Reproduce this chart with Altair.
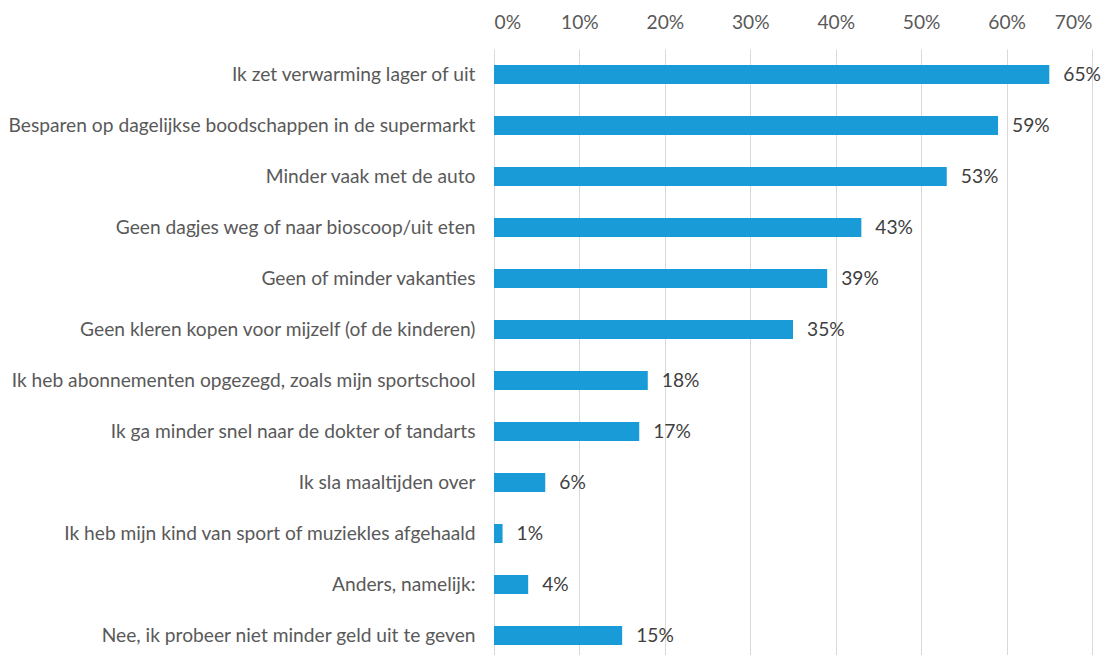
import altair as alt
import pandas as pd

categories = [
    "Ik zet verwarming lager of uit",
    "Besparen op dagelijkse boodschappen in de supermarkt",
    "Minder vaak met de auto",
    "Geen dagjes weg of naar bioscoop/uit eten",
    "Geen of minder vakanties",
    "Geen kleren kopen voor mijzelf (of de kinderen)",
    "Ik heb abonnementen opgezegd, zoals mijn sportschool",
    "Ik ga minder snel naar de dokter of tandarts",
    "Ik sla maaltijden over",
    "Ik heb mijn kind van sport of muziekles afgehaald",
    "Anders, namelijk:",
    "Nee, ik probeer niet minder geld uit te geven",
]
values = [65, 59, 53, 43, 39, 35, 18, 17, 6, 1, 4, 15]

df = pd.DataFrame({"cat": categories, "val": [v / 100 for v in values],
                   "label": [f"{v}%" for v in values]})

FONT = "Lato"
FS = 19.2
GRAY = "#595959"

y = alt.Y("cat:N", sort=categories, title=None,
          scale=alt.Scale(paddingInner=0, paddingOuter=0),
          axis=alt.Axis(ticks=False, domain=False, labelPadding=19,
                        labelFontSize=FS, labelColor=GRAY, labelFont=FONT,
                        labelLimit=0))
x = alt.X("val:Q", title=None,
          scale=alt.Scale(domain=[0, 0.7], nice=False),
          axis=alt.Axis(orient="top", format=".0%", values=[i / 10 for i in range(8)],
                        ticks=False, domain=False, labelPadding=17,
                        labelFontSize=FS, labelColor=GRAY, labelFont=FONT,
                        grid=True, gridColor="#d9d9d9", gridWidth=1))

bars = alt.Chart(df).mark_bar(size=19, color="#189bd7").encode(x=x, y=y)
labels = alt.Chart(df).mark_text(align="left", baseline="middle", dx=14,
                                 fontSize=FS, font=FONT, color="#404040").encode(
    x="val:Q", y=alt.Y("cat:N", sort=categories), text="label:N")

chart = (bars + labels).properties(width=598, height=612,
                                   padding={"left": 0, "top": 5, "right": 5, "bottom": 5}) \
    .configure_view(stroke=None)

chart.save("out.html", embed_options={"renderer": "svg", "actions": False})
